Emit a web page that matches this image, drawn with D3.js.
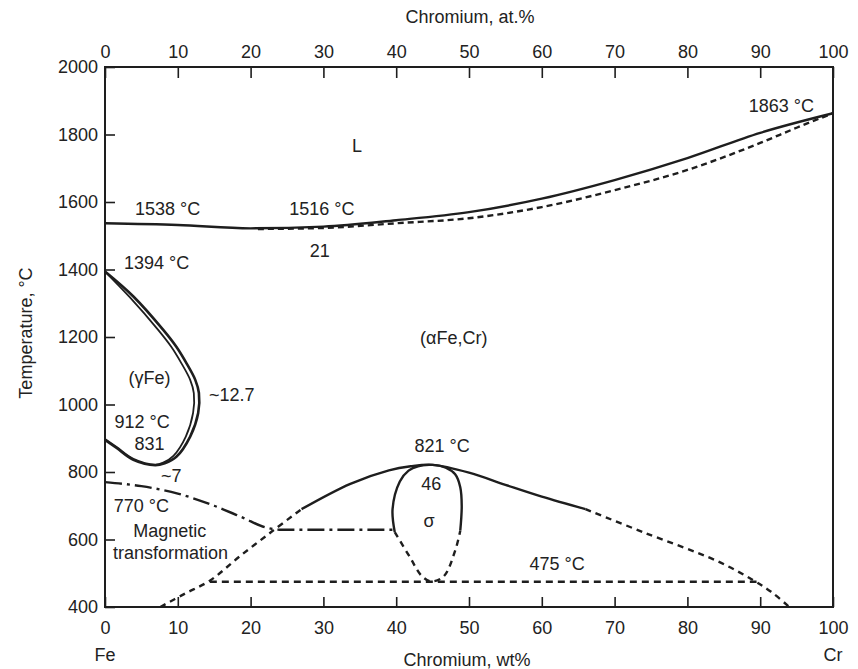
<!DOCTYPE html>
<html>
<head>
<meta charset="utf-8">
<script src="https://cdn.jsdelivr.net/npm/d3@7"></script>
<style>
  body { margin: 0; background: #fff; }
  text { font-family: "Liberation Sans", Arial, sans-serif; fill: #222; }
</style>
</head>
<body>
<svg id="chart" width="858" height="669"></svg>
<script>
// values: [wt% Cr, temperature °C]
const liquidus = [[0,1537],[10,1532],[20,1522],[30,1527],[40,1546],[50,1570],[60,1610],[70,1665],[80,1730],[90,1805],[100,1863]];
const solidus = [[21,1520],[30,1523],[40,1537],[50,1552],[60,1585],[70,1635],[80,1695],[90,1775],[95,1820],[100,1863]];
const gammaOuter = [[0,1394],[3.9,1320],[8.0,1221],[9.8,1171],[11.2,1122],[12.4,1073],[12.9,1034],[12.8,975],[11.7,905],[9.8,845],[8.2,826],[6.9,820],[3.9,836],[1.6,871],[0,895]];
const gammaInner = [[0,1394],[3.4,1318],[7.3,1221],[9.1,1171],[10.5,1122],[11.7,1073],[12.2,1034],[12.1,975],[11.1,905],[9.4,848],[8.0,828],[6.9,822],[3.9,839],[1.6,874],[0,898]];
const magnetic = [[0,770],[5,758],[10,736],[15,700],[19,664],[22,636],[24,629],[39.5,629]];
const sigmaLowLeft = [[7.6,400],[11,440],[14.4,478],[18.5,550],[23,625],[27,690]];
const sigmaDome = [[27,690],[33.7,765],[39,805],[42,817],[45,821],[50,798],[55,762],[60,727],[66,690]];
const sigmaLowRight = [[66,690],[74,621],[84,537],[89,480],[91.5,445],[94,400]];
const sigmaLoopTop = [[39.8,622],[39.5,690],[40.5,772],[41.7,804],[43,817],[45,821],[46.8,813],[48.1,793],[48.8,755],[49,700],[48.8,626]];
const sigmaLoopBottom = [[39.8,622],[41.9,547],[43.5,492],[44.8,476],[46.5,490],[48.1,567],[48.8,626]];
const eutectoid = [[14.4,475],[89.5,475]];

const tempTicks = [400,600,800,1000,1200,1400,1600,1800,2000];
const crTicks = [0,10,20,30,40,50,60,70,80,90,100];

// annotation texts at [wt% Cr, °C]
const labels = [
  ["L", 34.6, 1766],
  ["1538 °C", 8.6, 1581],
  ["1516 °C", 29.8, 1581],
  ["21", 29.5, 1457],
  ["1863 °C", 92.9, 1885],
  ["1394 °C", 7.1, 1421],
  ["(γFe)", 6.1, 1078],
  ["~12.7", 17.4, 1030],
  ["912 °C", 5.1, 948],
  ["831", 6.1, 885],
  ["~7", 9.1, 790],
  ["770 °C", 5.0, 700],
  ["Magnetic", 8.9, 626],
  ["transformation", 9.0, 562],
  ["(αFe,Cr)", 47.9, 1197],
  ["821 °C", 46.3, 879],
  ["46", 44.8, 766],
  ["σ", 44.5, 656],
  ["475 °C", 62.1, 528]
];

const svg = d3.select("#chart");
const plotL = 105, plotR = 833, plotT = 67, plotB = 607;

const x = d3.scaleLinear().domain([0, 100]).range([plotL, plotR]);
const y = d3.scaleLinear().domain([400, 2000]).range([plotB, plotT]);

const ink = "#1e1e1e";

// axes, ticks pointing inward
const bottomAxis = d3.axisBottom(x).tickValues(crTicks).tickSize(-10).tickPadding(14);
const topAxis = d3.axisTop(x).tickValues(crTicks).tickSize(-11).tickPadding(9);
const leftAxis = d3.axisLeft(y).tickValues(tempTicks).tickFormat(d3.format("d")).tickSize(-10).tickPadding(7);

function styleAxis(g) {
  g.select(".domain").remove();
  g.selectAll(".tick line").attr("stroke", ink).attr("stroke-width", 1.6);
  g.selectAll(".tick text").attr("fill", ink).style("font-size", "18px")
    .style("font-family", '"Liberation Sans", Arial, sans-serif');
}

svg.append("g").attr("transform", "translate(0," + plotB + ")").call(bottomAxis).call(styleAxis);
svg.append("g").attr("transform", "translate(0," + plotT + ")").call(topAxis).call(styleAxis);
svg.append("g").attr("transform", "translate(" + plotL + ",0)").call(leftAxis).call(styleAxis);

svg.append("rect")
  .attr("x", plotL).attr("y", plotT)
  .attr("width", plotR - plotL).attr("height", plotB - plotT)
  .attr("fill", "none").attr("stroke", ink).attr("stroke-width", 2);

// curves
const smooth = d3.line().x(d => x(d[0])).y(d => y(d[1])).curve(d3.curveCatmullRom.alpha(0.5));
const mono = d3.line().x(d => x(d[0])).y(d => y(d[1])).curve(d3.curveMonotoneX);
const straight = d3.line().x(d => x(d[0])).y(d => y(d[1]));

function draw(data, gen, dash, w) {
  svg.append("path")
    .datum(data)
    .attr("d", gen)
    .attr("fill", "none")
    .attr("stroke", ink)
    .attr("stroke-width", w || 2.4)
    .attr("stroke-dasharray", dash || null)
    .attr("stroke-linejoin", "round");
}

draw(liquidus, mono);
draw(solidus, mono, "6,4");
draw(gammaOuter, smooth, null, 2.6);
draw(gammaInner, smooth, null, 1.8);
draw(magnetic, mono, "17,5,3,5");
draw(sigmaLowLeft, smooth, "6,5");
draw(sigmaDome, smooth);
draw(sigmaLowRight, smooth, "6,5");
draw(sigmaLoopTop, smooth);
draw(sigmaLoopBottom, smooth, "6,5");
draw(eutectoid, straight, "7,5");

// annotations
svg.append("g").selectAll("text")
  .data(labels)
  .enter()
  .append("text")
    .attr("x", d => x(d[1]))
    .attr("y", d => y(d[2]))
    .attr("dy", "0.35em")
    .attr("text-anchor", "middle")
    .style("font-size", "18px")
    .text(d => d[0]);

// axis titles
svg.append("text").attr("x", 470).attr("y", 23).attr("text-anchor", "middle")
  .style("font-size", "18px").text("Chromium, at.%");
svg.append("text").attr("x", 467).attr("y", 666).attr("text-anchor", "middle")
  .style("font-size", "18px").text("Chromium, wt%");
svg.append("text").attr("transform", "translate(32,333) rotate(-90)").attr("text-anchor", "middle")
  .style("font-size", "18px").text("Temperature, °C");
svg.append("text").attr("x", x(0)).attr("y", 661).attr("text-anchor", "middle")
  .style("font-size", "18px").text("Fe");
svg.append("text").attr("x", x(100)).attr("y", 661).attr("text-anchor", "middle")
  .style("font-size", "18px").text("Cr");
</script>
</body>
</html>
